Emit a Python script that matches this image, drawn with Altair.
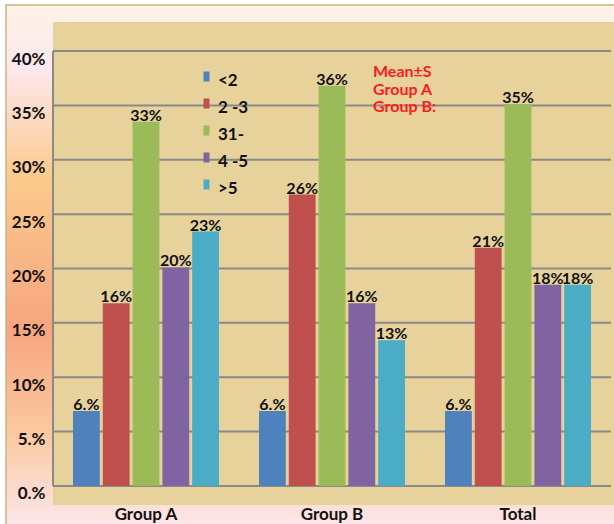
import altair as alt
import pandas as pd

groups = ["Group A", "Group B", "Total"]
categories = ["<2", "2 -3", "31-", "4 -5", ">5"]
values = {
    "Group A": [6.9, 16.8, 33.5, 20.1, 23.4],
    "Group B": [6.9, 26.8, 36.8, 16.8, 13.4],
    "Total": [6.9, 21.9, 35.1, 18.5, 18.5],
}
labels = {
    "Group A": ["6.%", "16%", "33%", "20%", "23%"],
    "Group B": ["6.%", "26%", "36%", "16%", "13%"],
    "Total": ["6.%", "21%", "35%", "18%", "18%"],
}
colors = ["#4f81bd", "#c0504d", "#9bbb59", "#8064a2", "#4bacc6"]
y_ticks = [0, 5, 10, 15, 20, 25, 30, 35, 40]
y_tick_labels = ["0.%", "5.%", "10%", "15%", "20%", "25%", "30%", "35%", "40%"]
note_lines = ["Mean±S", "Group A", "Group B:"]

rows = []
for g in groups:
    for c, v, l in zip(categories, values[g], labels[g]):
        rows.append({"group": g, "cat": c, "value": v, "label": l})
df = pd.DataFrame(rows)

W, H = 558, 483
FONT = "Lato"
FS = 17

yscale = alt.Scale(domain=[-1.75, 42.67], nice=False, zero=False)
xscale = alt.Scale(domain=groups, paddingInner=0.215, paddingOuter=0.1075)
offscale = alt.Scale(domain=categories, paddingInner=0.1, paddingOuter=0)
cscale = alt.Scale(domain=categories, range=colors)

label_expr = "[" + ",".join("'%s'" % s for s in y_tick_labels) + "][round(datum.value/5)]"
y_axis = alt.Axis(title=None, orient="left", values=y_ticks, grid=False, domain=False,
                  ticks=False, labelExpr=label_expr, labelFont=FONT, labelFontSize=FS,
                  labelFontWeight="bold", labelColor="#111", labelPadding=8,
                  labelBaseline="top", labelOffset=0, zindex=1)
x_axis = alt.Axis(title=None, domain=False, ticks=False, labelAngle=0,
                  labelFont=FONT, labelFontSize=FS, labelFontWeight="bold",
                  labelColor="#111", labelPadding=1, zindex=1)

one = alt.Data(values=[{"a": 1}])

bg = alt.Chart(one).mark_rect(
    stroke="#c9b38a", strokeWidth=1.5,
    color=alt.Gradient(
        gradient="linear", x1=0, y1=0, x2=0, y2=1,
        stops=[
            alt.GradientStop(offset=0, color="#fdf3e6"),
            alt.GradientStop(offset=0.12, color="#fde8ee"),
            alt.GradientStop(offset=0.33, color="#fbca8c"),
            alt.GradientStop(offset=0.62, color="#f7a57f"),
            alt.GradientStop(offset=0.82, color="#fac9a0"),
            alt.GradientStop(offset=1, color="#fde6ea"),
        ],
    ),
).encode(x=alt.value(-47), x2=alt.value(W + 6), y=alt.value(-17), y2=alt.value(H + 22))

parch = alt.Chart(one).mark_rect(color="#e7d29c").encode(
    x=alt.value(0), x2=alt.value(W + 6), y=alt.value(0), y2=alt.value(H)
)

grid_df = pd.DataFrame({"t": y_ticks})
grid = alt.Chart(grid_df).mark_rule(color="#8a8a8a", strokeWidth=2).encode(
    y=alt.Y("t:Q", scale=yscale, axis=y_axis),
    x=alt.value(0), x2=alt.value(W),
)
vline = alt.Chart(one).mark_rule(color="#8a8a8a", strokeWidth=2).encode(
    x=alt.value(0),
    y=alt.datum(0, scale=yscale, axis=y_axis),
    y2=alt.datum(40),
)

bars = alt.Chart(df).mark_bar().encode(
    x=alt.X("group:N", scale=xscale, sort=groups, axis=x_axis),
    xOffset=alt.XOffset("cat:N", scale=offscale, sort=categories),
    y=alt.Y("value:Q", scale=yscale, axis=y_axis),
    y2=alt.datum(0),
    color=alt.Color("cat:N", scale=cscale, sort=categories,
                    legend=alt.Legend(title=None, orient="none", legendX=145, legendY=50,
                                      symbolType="M-0.6,-1.8H0.6V0.2H-0.6Z",
                                      symbolSize=100, symbolStrokeWidth=0,
                                      labelFont=FONT, labelFontSize=FS,
                                      labelFontWeight="bold", labelColor="#111",
                                      labelOffset=3, rowPadding=9, padding=0)),
)

texts = alt.Chart(df).mark_text(
    font=FONT, fontSize=16, fontWeight="bold", color="#111", baseline="bottom", dy=2
).encode(
    x=alt.X("group:N", scale=xscale, sort=groups, axis=x_axis),
    xOffset=alt.XOffset("cat:N", scale=offscale, sort=categories),
    y=alt.Y("value:Q", scale=yscale, axis=y_axis),
    text="label:N",
)

note_df = pd.DataFrame({"txt": ["\n".join(note_lines)]})
note = alt.Chart(note_df).mark_text(
    font=FONT, fontSize=16, fontWeight="bold", color="#ff1a1a", align="left",
    baseline="middle", lineBreak="\n", lineHeight=17.5
).encode(
    x=alt.value(373 - 53),
    y=alt.value(72 - 22),
    text="txt:N",
)

chart = alt.layer(bg, parch, grid, vline, bars, texts, note).properties(
    width=W, height=H,
    autosize=alt.AutoSizeParams(type="none"),
    padding={"left": 53, "top": 22, "right": 3, "bottom": 19},
    background="white",
).configure_view(stroke=None)

chart.save("out.html", embed_options={"renderer": "svg", "actions": False})
